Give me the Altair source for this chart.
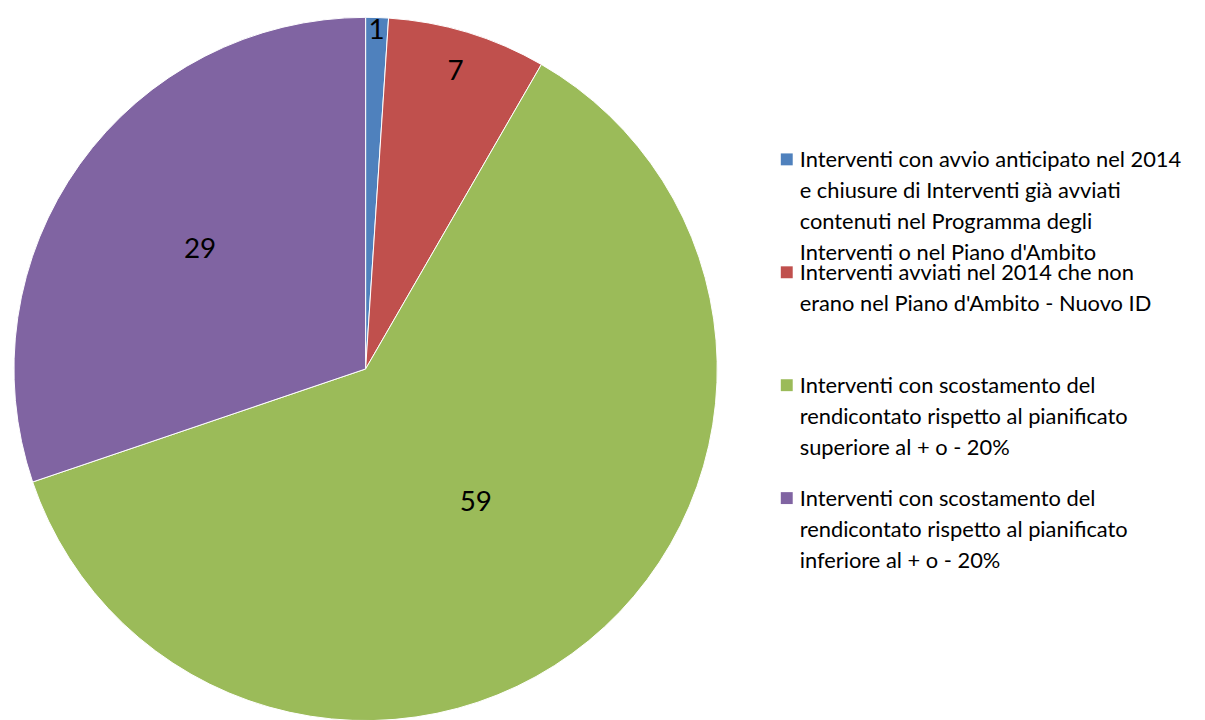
import altair as alt
import pandas as pd

categories = [
    "Interventi con avvio anticipato nel 2014\ne chiusure di Interventi già avviati\ncontenuti nel Programma degli\nInterventi o nel Piano d'Ambito",
    "Interventi avviati nel 2014 che non\nerano nel Piano d'Ambito - Nuovo ID",
    "Interventi con scostamento del\nrendicontato rispetto al pianificato\nsuperiore al + o - 20%",
    "Interventi con scostamento del\nrendicontato rispetto al pianificato\ninferiore al + o - 20%",
]
values = [1, 7, 59, 29]
colors = ["#4F81BD", "#C0504D", "#9BBB59", "#8064A2"]

df = pd.DataFrame({
    "cat": categories,
    "value": values,
    "idx": list(range(len(values))),
})

color = alt.Color("cat:N", scale=alt.Scale(domain=categories, range=colors), legend=None)

base = alt.Chart(df).encode(
    theta=alt.Theta("value:Q", stack=True),
    order=alt.Order("idx:Q"),
    x=alt.value(360),
    y=alt.value(361),
)

pie = base.mark_arc(outerRadius=354, stroke="white", strokeWidth=1).encode(color=color)

labels = base.mark_text(font="Lato", fontSize=28, color="black").encode(
    radius=alt.Radius("value:Q", scale=alt.Scale(domain=[1, 7, 29, 59], range=[340, 312, 205, 175]), stack=True),
    text=alt.Text("value:Q"),
)

leg_y = alt.Y("idx:Q", scale=alt.Scale(domain=[0, 3], range=[150, 491]), axis=None)

leg_sym = alt.Chart(df).mark_square(size=144, opacity=1).encode(
    x=alt.value(784),
    y=leg_y,
    color=color,
)

leg_txt = alt.Chart(df).mark_text(
    font="Lato", fontSize=22, align="left", baseline="alphabetic",
    lineBreak="\n", lineHeight=31, dy=8, color="black",
).encode(
    x=alt.value(797),
    y=leg_y,
    text="cat:N",
)

chart = alt.layer(pie, labels, leg_sym, leg_txt).properties(
    width=1197, height=712, padding=0, autosize=alt.AutoSizeParams(type="none"),
).configure_view(stroke=None)

chart.save("out.html", embed_options={"renderer": "svg", "actions": False})
